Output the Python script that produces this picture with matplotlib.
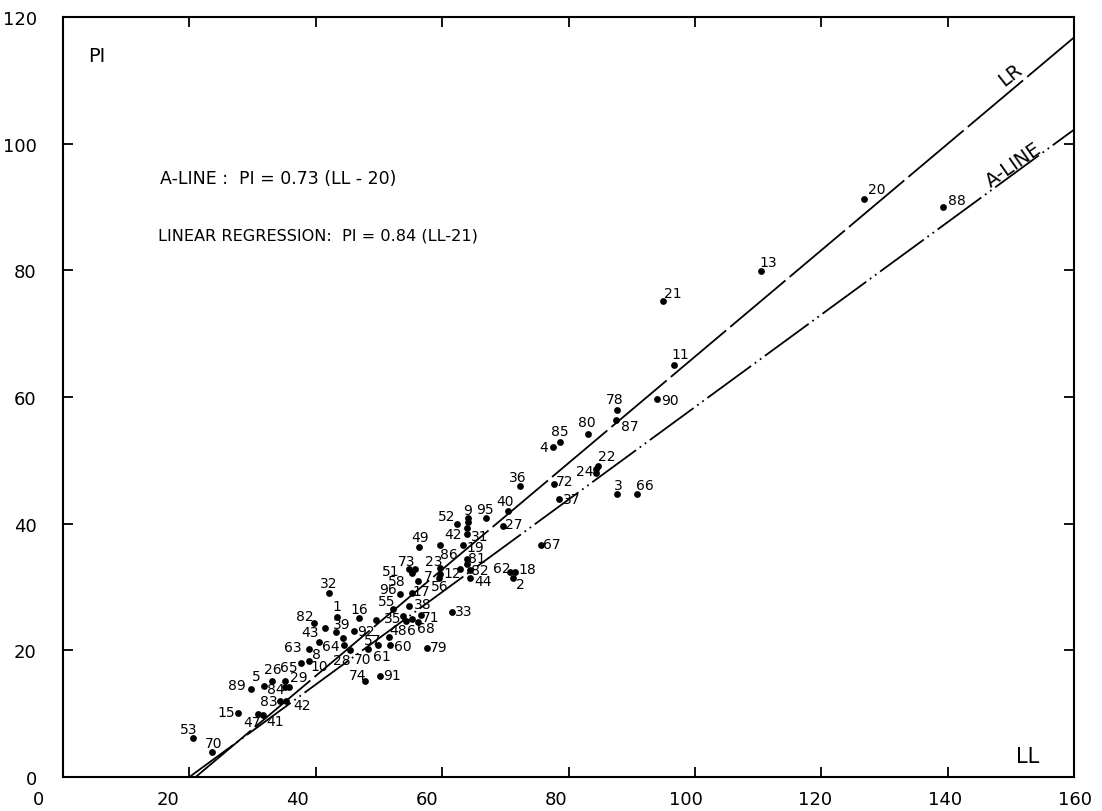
import matplotlib
matplotlib.use("Agg")
import matplotlib.pyplot as plt
import matplotlib.transforms as mtransforms
import numpy as np

# ---- data ----
labels = ['53', '70', '15', '47', '41', '83', '42', '89', '5', '26', '65', '84', '29', '', '10',
          '63', '8', '82', '43', '1', '32', '39', '', '16', '92', '', '64', '28', '70', '61',
          '57', '60', '74', '91', '79', '55', '96', '38', '48', '35', '6', '68', '71', '17', '7',
          '73', '51', '58', '49', '86', '23', '', '12', '56', '81', '', '82', '44', '19',
          '9', '', '42', '31', '52', '95', '40', '27', '36', '33', '62', '18', '2', '67',
          '72', '37', '4', '85', '80', '22', '24', '', '3', '66', '78', '87', '90', '11',
          '21', '13', '20', '88']
ll = [20.6, 23.6, 27.7, 30.9, 31.6, 34.3, 35.3, 29.7, 31.8, 33.1, 35.1, 35.1, 35.8, 37.7, 38.9,
      38.9, 40.5, 39.7, 41.5, 43.4, 42.1, 43.2, 44.3, 46.8, 46.0, 49.5, 44.5, 45.4, 48.3, 49.8,
      51.6, 51.7, 47.8, 50.2, 57.6, 52.2, 53.3, 54.7, 54.3, 53.8, 55.2, 56.2, 56.6, 55.2, 56.2,
      55.7, 54.7, 55.2, 56.3, 59.7, 59.7, 59.7, 62.8, 59.5, 63.9, 63.9, 64.4, 64.4, 63.3,
      64.1, 64.1, 63.9, 63.9, 62.3, 66.9, 70.4, 69.6, 72.3, 61.6, 70.7, 71.5, 71.2, 75.6,
      77.7, 78.5, 77.5, 78.6, 83.1, 84.7, 84.3, 84.3, 87.7, 90.8, 87.7, 87.5, 94.0, 96.7,
      94.9, 110.4, 126.7, 139.2]
pi = [6.2, 3.9, 10.1, 10.0, 9.8, 12.0, 12.0, 13.9, 14.4, 15.2, 15.2, 14.2, 14.2, 18.0, 18.3,
      20.2, 21.3, 24.3, 23.5, 25.3, 29.1, 22.9, 22.0, 25.1, 23.1, 24.8, 20.9, 20.1, 20.2, 20.9,
      22.1, 20.9, 15.2, 16.0, 20.4, 26.5, 28.9, 27.0, 24.6, 25.4, 25.0, 24.5, 25.6, 29.1, 31.0,
      32.9, 32.9, 32.2, 36.3, 36.7, 33.0, 32.1, 32.9, 31.4, 34.4, 33.6, 32.7, 31.4, 36.7,
      40.9, 40.3, 39.3, 38.4, 40.0, 40.9, 42.0, 39.7, 46.0, 26.1, 32.4, 32.4, 31.4, 36.7,
      46.3, 43.9, 52.1, 52.9, 54.2, 49.1, 48.7, 48.0, 44.7, 44.7, 58.0, 56.4, 59.7, 65.1,
      75.2, 79.9, 91.2, 90.0]

# line equations
aline_slope, aline_ll0 = 0.73, 20
lr_slope, lr_ll0 = 0.84, 21
x_ticks = [0, 20, 40, 60, 80, 100, 120, 140, 160]
y_ticks = [0, 20, 40, 60, 80, 100, 120]

# ---- label offsets in pixels (style) ----
offsets = [(-5, 9), (1, 9), (-12, 1), (-6, -8), (12, -6), (-11, 0), (16, -4), (-14, 4), (-8, 10),
           (1, 12), (4, 14), (-9, -2), (10, 10), (0, 0), (10, -5),
           (-16, 2), (-2, -12), (-9, 7), (-15, -4), (0, 11), (0, 10), (6, 8), (0, 0), (1, 9),
           (12, 0), (0, 0), (-13, -1), (-8, -10), (-6, -10), (4, -11),
           (-16, -3), (13, -1), (-7, 6), (12, 1), (12, 1), (-6, 8), (-12, 5), (14, 2), (-8, -9),
           (-10, -2), (0, -11), (8, -6), (10, -2), (9, 2), (10, 5),
           (-8, 8), (-18, -2), (-15, -8), (1, 10), (9, -9), (-7, 7), (0, 0), (-8, -4), (1, -8),
           (10, 1), (0, 0), (10, 0), (13, -3), (12, -2),
           (0, 8), (0, 0), (-14, -6), (13, -2), (-10, 8), (-1, 9), (-3, 10), (11, 2), (-2, 9),
           (11, 1), (-8, 4), (12, 3), (7, -6), (11, 1),
           (11, 3), (13, 0), (-9, 0), (0, 11), (-1, 12), (9, 10), (-11, -2), (0, 0), (1, 9),
           (8, 9), (-2, 11), (14, -6), (13, -1), (6, 11),
           (10, 8), (8, 9), (13, 10), (14, 7)]

plt.rcParams['font.family'] = ['DejaVu Sans']
fig = plt.figure(figsize=(11.02, 8.12), dpi=100)
ax = fig.add_axes([0.0572, 0.0419, 0.9174, 0.936])

ax.scatter(ll, pi, s=24, color='black', zorder=3, linewidths=0)
for lab, x, y, (dx, dy) in zip(labels, ll, pi, offsets):
    if not lab:
        continue
    ax.annotate(lab, (x, y), xytext=(dx, dy), textcoords='offset pixels',
                ha='center', va='center', fontsize=10)

xx = np.array([lr_ll0, 160])
ax.plot(xx, lr_slope * (xx - lr_ll0), color='black', lw=1.3,
        linestyle=(0, (40, 3)))
xa = np.array([aline_ll0, 160])
ax.plot(xa, aline_slope * (xa - aline_ll0), color='black', lw=1.3,
        linestyle=(0, (30, 2.5, 1, 2.5, 1, 2.5)))

ax.set_xlim(0, 160)
ax.set_ylim(0, 120)
ax.set_xticks(x_ticks)
ax.set_yticks(y_ticks)
ax.tick_params(direction='in', length=7, width=1.3, top=True, right=True,
               labelsize=13)
ax.tick_params(axis='y', pad=19)
ax.tick_params(axis='x', labelbottom=False)
for s in ax.spines.values():
    s.set_linewidth(1.5)

# x tick labels, placed as lettered on the original sheet
trans = mtransforms.blended_transform_factory(ax.transData, ax.transAxes)
for v in x_ticks:
    xpos = (6.48 * v - 25) / 6.32
    ax.text(xpos, -0.029, str(v), transform=trans, ha='center', va='center',
            fontsize=13, clip_on=False)

ax.text(4, 113.9, 'PI', fontsize=14, ha='left', va='center')
ax.text(152.7, 3.3, 'LL', fontsize=15, ha='center', va='center')
ax.text(150, 111, 'LR', fontsize=14, rotation=38, ha='center', va='center')
ax.text(150.5, 96.8, 'A-LINE', fontsize=14, rotation=35, ha='center', va='center')
ax.text(15.3, 94.5, 'A-LINE :  PI = 0.73 (LL - 20)', fontsize=12.5, ha='left', va='center')
ax.text(15.0, 85.5, 'LINEAR REGRESSION:  PI = 0.84 (LL-21)', fontsize=11.6, ha='left', va='center')

fig.savefig('out.png', dpi=100, facecolor='white')
